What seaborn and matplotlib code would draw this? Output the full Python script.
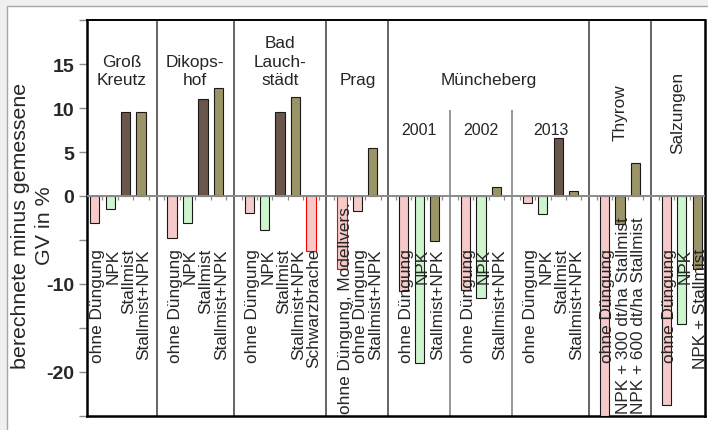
import matplotlib
matplotlib.use("Agg")
import matplotlib.pyplot as plt
from matplotlib.patches import Rectangle
import pandas as pd
import seaborn as sns

# Abweichung berechnete minus gemessene GV (%) je Standort und Variante
gk_var = ["ohne Düngung", "NPK", "Stallmist", "Stallmist+NPK"]
gk_val = [-3.1, -1.5, 9.5, 9.6]

dk_var = ["ohne Düngung", "NPK", "Stallmist", "Stallmist+NPK"]
dk_val = [-4.8, -3.1, 11.0, 12.3]

bl_var = ["ohne Düngung", "NPK", "Stallmist", "Stallmist+NPK", "Schwarzbrache"]
bl_val = [-1.9, -3.9, 9.6, 11.2, -6.2]

pr_var = ["ohne Düngung, Modellvers.", "ohne Düngung", "Stallmist+NPK"]
pr_val = [-8.3, -1.7, 5.4]

m01_var = ["ohne Düngung", "NPK", "Stallmist+NPK"]
m01_val = [-10.8, -19.0, -5.1]

m02_var = ["ohne Düngung", "NPK", "Stallmist+NPK"]
m02_val = [-10.7, -11.6, 1.0]

m13_var = ["ohne Düngung", "NPK", "Stallmist", "Stallmist+NPK"]
m13_val = [-0.8, -2.0, 6.6, 0.6]

th_var = ["ohne Düngung", "NPK + 300 dt/ha Stallmist", "NPK + 600 dt/ha Stallmist"]
th_val = [-25.0, -3.2, 3.7]

sa_var = ["ohne Düngung", "NPK", "NPK + Stallmist"]
sa_val = [-23.7, -14.5, -8.3]

site_titles = ["Groß\nKreutz", "Dikops-\nhof", "Bad\nLauch-\nstädt", "Prag",
               "Müncheberg", "Thyrow", "Salzungen"]
rotated_titles = ["Thyrow", "Salzungen"]
site_blocks = [
    [(None, gk_var, gk_val)],
    [(None, dk_var, dk_val)],
    [(None, bl_var, bl_val)],
    [(None, pr_var, pr_val)],
    [("2001", m01_var, m01_val), ("2002", m02_var, m02_val), ("2013", m13_var, m13_val)],
    [(None, th_var, th_val)],
    [(None, sa_var, sa_val)],
]

y_ticks = [-25, -20, -15, -10, -5, 0, 5, 10, 15, 20]
y_tick_labels = ["", "-20", "", "-10", "", "0", "5", "10", "15", ""]
y_label_lines = ["berechnete minus gemessene", "GV in %"]

# Farben je Variante
fill_of = {"ohne Düngung": "ohne", "ohne Düngung, Modellvers.": "ohne",
           "Schwarzbrache": "ohne", "NPK": "npk", "Stallmist": "mist"}
red_edge = {"ohne Düngung, Modellvers.", "Schwarzbrache"}
palette = {"ohne": "#ffc2c2", "npk": "#c8fcc8", "mist": "#6f5446", "kombi": "#a39a5e"}

# Positionen: eine leere Spalte zwischen den Blöcken trägt die Trennlinie
rows, seps, year_spans, site_spans = [], [], [], []
pos = 0
n_sites = len(site_blocks)
for si, blocks in enumerate(site_blocks):
    site_start = seps[-1][0] if seps else -0.5
    for bi, (yr, var, val) in enumerate(blocks):
        blk_start = seps[-1][0] if seps else -0.5
        for v, y in zip(var, val):
            rows.append({"pos": pos, "value": y, "label": v,
                         "fill": fill_of.get(v, "kombi"), "red": v in red_edge})
            pos += 1
        last = (si == n_sites - 1) and (bi == len(blocks) - 1)
        blk_end = pos - 0.5 if last else pos
        if yr:
            year_spans.append((yr, blk_start, blk_end))
        if not last:
            seps.append((pos, bi == len(blocks) - 1))
            pos += 1
    site_end = seps[-1][0] if si < n_sites - 1 else pos - 0.5
    site_spans.append((site_titles[si], site_start, site_end))

df = pd.DataFrame(rows)
x_lo, x_hi = -0.5, pos - 0.5
y_lo, y_hi = -25, 20

sns.set_style("white")
plt.rcParams["font.family"] = ["Liberation Sans", "DejaVu Sans"]

fig = plt.figure(figsize=(7.08, 4.31), dpi=100, facecolor="#f0f0f0")
fig.patches.append(Rectangle((7 / 708, -0.01), 1.0, (431 - 7) / 431 + 0.01,
                             transform=fig.transFigure, facecolor="white",
                             edgecolor="#a8a8a8", linewidth=1.0, zorder=-10))
ax = fig.add_axes([87 / 708, 14 / 431, 618 / 708, 396 / 431])
ax.set_facecolor("white")

sns.barplot(data=df, x="pos", y="value", hue="fill", palette=palette,
            native_scale=True, dodge=False, width=0.6, errorbar=None,
            edgecolor="#1a1a1a", linewidth=0.8, legend=False, ax=ax, zorder=3)

red_pos = set(df.loc[df["red"], "pos"])
for bar in ax.patches:
    cx = bar.get_x() + bar.get_width() / 2
    if any(abs(cx - p) < 0.2 for p in red_pos):
        bar.set_edgecolor("#ff0000")

ax.set_xlim(x_lo, x_hi)
ax.set_ylim(y_lo, y_hi)
ax.set_xticks([])
ax.set_xlabel("")
ax.set_ylabel("")

# Nulllinie mit kleinen Teilstrichen zwischen den Spalten
ax.axhline(0, color="#8a8a8a", linewidth=1.4, zorder=4)
bounds = [b + 0.5 for b in range(int(x_lo - 0.5), int(x_hi + 0.5))]
ax.vlines(bounds[1:-1], -0.4, 0, color="#8a8a8a", linewidth=0.9, zorder=4)

# Trennlinien zwischen Standorten und Jahren
for x, major in seps:
    if major:
        ax.axvline(x, color="#3a3a3a", linewidth=1.1, zorder=2)
    else:
        ax.vlines(x, y_lo, 9.8, color="#7a7a7a", linewidth=1.1, zorder=2)

# Variantenbeschriftung unter den Balken
for _, r in df.iterrows():
    if len(r["label"]) > 20:
        ax.text(r["pos"] + 0.2, -24.7, r["label"], rotation=90, ha="center",
                va="bottom", fontsize=12.4, zorder=5)
    else:
        ax.text(r["pos"] + 0.2, -5.9, r["label"], rotation=90, ha="center",
                va="top", fontsize=12.4, zorder=5)

# Standort- und Jahrestitel
for title, a, b in site_spans:
    xc = (a + b) / 2
    if title in rotated_titles:
        ax.text(xc, 9.6, title, rotation=90, ha="center", va="center",
                fontsize=12.4, zorder=5)
    else:
        ax.text(xc, 12.4, title, ha="center", va="bottom", fontsize=12.4,
                linespacing=1.27, multialignment="center", zorder=5)
for yr, a, b in year_spans:
    ax.text((a + b) / 2, 7.6, yr, ha="center", va="center", fontsize=11.5, zorder=5)

ax.set_yticks(y_ticks)
ax.set_yticklabels(y_tick_labels)
ax.tick_params(axis="y", left=True, length=6, width=1, color="#8a8a8a",
               labelsize=14, pad=3)
for t in ax.get_yticklabels():
    t.set_fontweight("bold")

for side in ["left", "right", "bottom"]:
    ax.spines[side].set_linewidth(1.8)
    ax.spines[side].set_color("black")
ax.spines["top"].set_linewidth(1.4)
ax.spines["top"].set_color("black")

# Achsentitel in zwei Zeilen
label_y = (431 - 226) / 431
fig.text(21 / 708, label_y, y_label_lines[0], rotation=90, ha="center",
         va="center", fontsize=15.4)
fig.text(45 / 708, label_y, y_label_lines[1], rotation=90, ha="center",
         va="center", fontsize=15.4)

fig.savefig("out.png", dpi=100, facecolor=fig.get_facecolor())
